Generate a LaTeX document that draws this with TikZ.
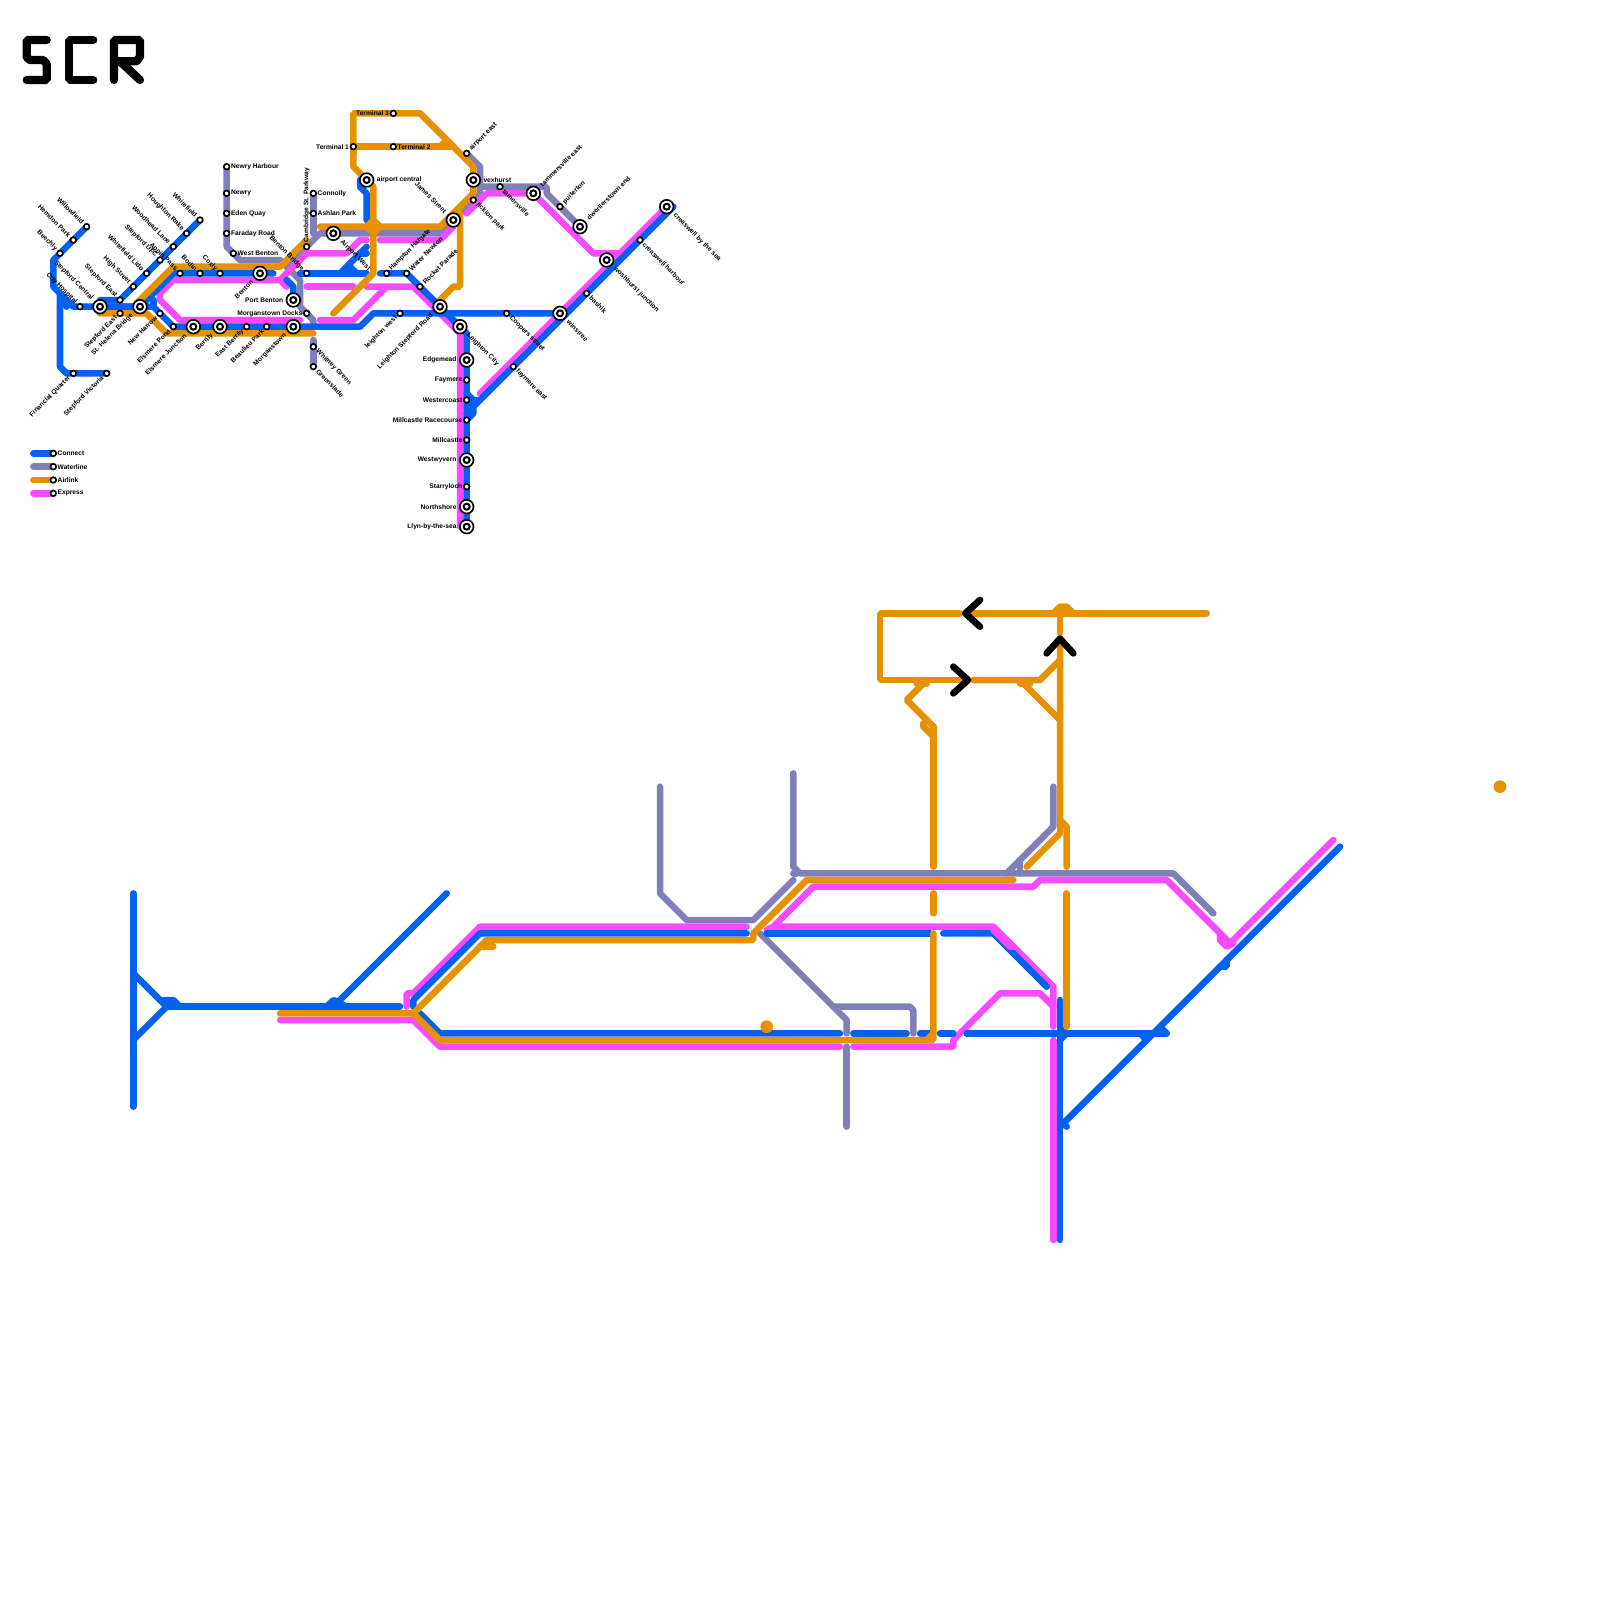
\documentclass[tikz,border=0pt]{standalone}
\usepackage{fontspec}
\setmainfont{Liberation Sans}
\newlength{\lgap}
\newcounter{stc}
\tikzset{
  base/.style={line width=1.85pt,line cap=round,line join=bevel},
  conn/.style={base,draw=cblue},
  water/.style={base,draw=cgrey},
  air/.style={base,draw=cairl},
  expr/.style={base,draw=cexp},
  chev/.style={line width=1.9pt,line cap=round,line join=round,draw=black},
  logo/.style={line width=2.35pt,line cap=round,line join=bevel,draw=black},
  ministn/.style={circle,draw=black,fill=white,line width=.475pt,minimum size=1.61pt,inner sep=0pt,outer sep=0pt},
  outerstn/.style={circle,draw=black,fill=white,line width=.475pt,minimum size=3.89pt,inner sep=0pt,outer sep=0pt},
  innerstn/.style={circle,draw=black,fill=white,line width=.57pt,minimum size=1.71pt,inner sep=0pt,outer sep=0pt},
  lab/.style={font=\fontsize{1.89}{2.2}\selectfont\bfseries,inner sep=0pt,outer sep=0pt,text=black},
  E/.style={shift={(0:\lgap)},anchor=west},
  W/.style={shift={(180:\lgap)},anchor=east},
  UU/.style={shift={(90:\lgap)},anchor=west,rotate=90},
  UR/.style={shift={(45:\lgap+0.3pt)},anchor=west,rotate=45},
  UL/.style={shift={(135:\lgap+0.3pt)},anchor=east,rotate=-45},
  DL/.style={shift={(225:\lgap+0.3pt)},anchor=east,rotate=45},
  DR/.style={shift={(-45:\lgap+0.3pt)},anchor=west,rotate=-45},
}
\definecolor{cblue}{HTML}{0460EE}
\definecolor{cgrey}{HTML}{8080B8}
\definecolor{cairl}{HTML}{E69200}
\definecolor{cexp}{HTML}{F64BFF}
\newcommand{\mstn}[4]{\stepcounter{stc}\setlength{\lgap}{1.25pt}%
  \node[ministn] (m\thestc) at (#1,#2) {};
  \node[lab,#3] (t\thestc) at (m\thestc.center) {#4};}
\newcommand{\istn}[4]{\stepcounter{stc}\setlength{\lgap}{2.9pt}%
  \node[outerstn] (m\thestc) at (#1,#2) {};
  \node[innerstn] (c\thestc) at (#1,#2) {};
  \node[lab,#3] (t\thestc) at (m\thestc.center) {#4};}
\begin{document}
\begin{tikzpicture}[x=0.0666667cm,y=-0.0666667cm]
\useasboundingbox (0,0) rectangle (240,240);
% logo
\draw[logo] (7,6)--(4,6)--(4,8.6)--(4.5,9)--(6.5,9)--(7,9.6)--(7,12)--(4,12);
\draw[logo] (14,6)--(10.3,6)--(10.3,12)--(14,12);
\draw[logo] (17.1,12)--(17.1,6)--(21,6)--(21,8.5)--(20.5,9.2)--(17.1,9.2);
\draw[logo] (18,9.2)--(21,12);
% ---------- Waterline
\draw[water] (34,25)--(34,37)--(36,39)--(42,39)--(45,42)--(45,46)--(47,48)--(47,49);
\draw[water] (47,51)--(47,55);
\draw[water] (47,29)--(47,35);
\draw[water] (43,40)--(48,35)--(66,35)--(72,29)--(72,25)--(70,23);
\draw[water] (72,28)--(82,28)--(82,29)--(87,34);
\draw[water] (99,118)--(99,134)--(103,138)--(113,138)--(119,132);
\draw[water] (119,116)--(119,130)--(120,131)--(176,131)--(182,137);
\draw[water] (119,131)--(119.5,131);
\draw[water] (114,140)--(127,153)--(127,155);
\draw[water] (125,151)--(136.5,151)--(137,151.5)--(137,155);
\draw[water] (127,157)--(127,169);
\draw[water] (158,118)--(158,124)--(151,131);
\draw[water] (153,129)--(153,131);
% ---------- Express
\draw[expr] (15,46)--(21,46);
\draw[expr] (43,43)--(42,42)--(26,42)--(24,44)--(24,45)--(27,48)--(45,48);
\draw[expr] (42,42)--(46,38)--(52,38)--(54,36)--(55,36);
\draw[expr] (57,36)--(66,36)--(68,34);
\draw[expr] (70,32)--(73,29)--(80,29)--(89,38)--(93,38)--(100,31);
\draw[expr] (72,59)--(93,38);
\draw[expr] (46,43)--(53,43);
\draw[expr] (55,43)--(62,43)--(69,50)--(69,79);
\draw[expr] (48,48)--(53,48)--(58,43);
\draw[expr] (61,151)--(61,149)--(62,149)--(72,139)--(112,139);
\draw[expr] (42,153)--(62,153)--(66,157)--(126,157);
\draw[expr] (128,157)--(143,157)--(143,156)--(150,149)--(156,149)--(158,151);
\draw[expr] (116,139)--(149,139)--(158,148)--(158,154);
\draw[expr] (158,156)--(158,186);
\draw[expr] (115,139.5)--(116,139)--(122,133)--(155,133)--(156,132)--(175,132)--(176,133)--(184.5,141.5)--(200,126);
\draw[expr] (183,140)--(183,141)--(184,142)--(185,141.5);
% ---------- Connect
\draw[conn] (13,34)--(8,39)--(8,43)--(11,46)--(23,46)--(26,49)--(54,49)--(56,47)--(84,47);
\draw[conn] (9,44)--(9,55)--(10,56)--(16,56);
\draw[conn] (10,45)--(10,46);
\draw[conn] (30,33)--(18,45)--(15,45);
\draw[conn] (21,46)--(26,41)--(41,41);
\draw[conn] (23,45)--(23,46);
\draw[conn] (45,41)--(55,41);
\draw[conn] (57,41)--(61,41)--(70,50)--(70,79);
\draw[conn] (51,41)--(55,37);
\draw[conn] (54,38)--(55,38);
\draw[conn] (52.5,40)--(53.5,41);
\draw[conn] (54,27)--(54,28)--(55,29)--(55,33);
\draw[conn] (43,42)--(44,43)--(44,45);
\draw[conn] (101,31)--(70,62);
\draw[conn] (70,59)--(71,60)--(72,60);
\draw[conn] (71,60)--(71,62)--(70,63);
% lower
\draw[conn] (20,134)--(20,166);
\draw[conn] (20,146)--(25,151);
\draw[conn] (20,156)--(25,151);
\draw[conn] (25,151)--(60,151);
\draw[conn] (24.5,150)--(26,150)--(27,151);
\draw[conn] (49,151)--(50,150)--(52,151);
\draw[conn] (50,151)--(67,134);
\draw[conn] (62,151)--(62,150)--(72,140)--(112,140);
\draw[conn] (63,152)--(66,155)--(126,155);
\draw[conn] (128,155)--(136,155);
\draw[conn] (138,155)--(139.5,155);
\draw[conn] (141,155)--(143,155);
\draw[conn] (145,155)--(175,155);
\draw[conn] (115,140)--(139.5,140);
\draw[conn] (141.5,140)--(149,140)--(157,148);
\draw[conn] (159,150)--(159,186);
\draw[conn] (159,169)--(201,127);
\draw[conn] (159,168)--(160,169);
\draw[conn] (171,155)--(172,156);
\draw[conn] (174,154)--(175,155);
\draw[conn] (184,144)--(184,145)--(183,145);
\draw[conn] (158,155)--(160,155);
\draw[conn] (159,154)--(160,155)--(159,156);
% magenta bump lying over the blue
\draw[expr] (149,139.5)--(151.5,142)--(152,142);
% ---------- Airlink
\draw[air] (15,47)--(22,47)--(25,50)--(47,50);
\draw[air] (21,45)--(26,40)--(42,40)--(46,36);
\draw[air] (20.5,45.5)--(21,45);
\draw[air] (53,23)--(53,17)--(63,17)--(71,25)--(71,29)--(66,34)--(48,34);
\draw[air] (53,22)--(68,22);
\draw[air] (66,22)--(67,21);
\draw[air] (53,22)--(53,25)--(55,27)--(56,28)--(56,41)--(50,47);
\draw[air] (55,34)--(56,33)--(57,34)--(56,35)--(55,34);
\draw[air] (69,32)--(69,43)--(68,43)--(66,45);
\draw[air] (42,152)--(62,152)--(72,142)--(73,141)--(113,141)--(113,140)--(121,132)--(152,132);
\draw[air] (72,142)--(74,142);
\draw[air] (62,152)--(66,156)--(140,156)--(140,140);
\draw[air] (139,156)--(140,155);
\draw[air] (140,134)--(140,137);
\draw[air] (140,109)--(140,130);
\draw[air] (138.5,108.5)--(138.5,109)--(140,110.5);
\draw[air] (139,102)--(136,105)--(140,109);
\draw[air] (137.5,102.5)--(139,102.5);
\draw[air] (144,92)--(132,92)--(132,102)--(144,102);
\draw[air] (146,102)--(156,102)--(159,99);
\draw[air] (146,92)--(181,92);
\draw[air] (158,92)--(159,91)--(160,91)--(161,92);
\draw[air] (159,92)--(159,95);
\draw[air] (159,97)--(159,125)--(154,130);
\draw[air] (153,102)--(159,108);
\draw[air] (153,102.5)--(154.5,102.5);
\draw[air] (159,123)--(160,124)--(160,130);
\draw[air] (160,134)--(160,154);
\fill[cairl] (115,154) circle (0.95);
\fill[cairl] (225,118) circle (0.95);
% chevrons
\draw[chev] (147,90)--(144.8,92)--(147,94);
\draw[chev] (143,100)--(145.2,102)--(143,104);
\draw[chev] (157,98)--(159,95.8)--(161,98);
% ---------- Legend
\draw[conn] (5,68)--(8,68);
\draw[water] (5,70)--(8,70);
\draw[air] (5,72)--(8,72);
\draw[expr] (5,74)--(8,74);
\mstn{8}{68}{E}{Connect}
\mstn{8}{70}{E}{Waterline}
\mstn{8}{72}{E}{Airlink}
\mstn{8}{74}{E}{Express}
% ---------- Stations
\mstn{13}{34}{UL}{Willowfield}
\mstn{11}{36}{UL}{Hemdon Park}
\mstn{9}{38}{UL}{Beechly}
\mstn{12}{46}{UL}{City Hospital}
\istn{15}{46}{UL}{Stepford Central}
\mstn{18}{45}{UL}{Stepford East}
\mstn{18}{47}{DL}{Stepford East}
\istn{21}{46}{DL}{St. Helena Bridge}
\mstn{24}{47}{DL}{New Harrow}
\mstn{26}{49}{DL}{Elsmere Pond}
\istn{29}{49}{DL}{Elsmere Junction}
\istn{33}{49}{DL}{Berrily}
\mstn{37}{49}{DL}{East Berrily}
\mstn{40}{49}{DL}{Beaulieu Park}
\istn{44}{49}{DL}{Morganstown}
\istn{44}{45}{W}{Port Benton}
\mstn{46}{47}{W}{Morganstown Docks}
\mstn{46}{41}{UL}{Benton Bridge}
\mstn{46}{37}{UU}{Cambridge St. Parkway}
\mstn{47}{29}{E}{Connolly}
\mstn{47}{32}{E}{Ashlan Park}
\mstn{34}{25}{E}{Newry Harbour}
\mstn{34}{29}{E}{Newry}
\mstn{34}{32}{E}{Eden Quay}
\mstn{34}{35}{E}{Faraday Road}
\mstn{35}{38}{E}{West Benton}
\istn{39}{41}{DL}{Benton}
\mstn{27}{41}{UL}{Appin Pass}
\mstn{30}{41}{UL}{Bodin}
\mstn{33}{41}{UL}{Coxly}
\mstn{30}{33}{UL}{Whitefield}
\mstn{28}{35}{UL}{Houghton Rake}
\mstn{26}{37}{UL}{Woodhead Lane}
\mstn{24}{39}{UL}{Stepford UFC}
\mstn{22}{41}{UL}{Whitefield Lido}
\mstn{20}{43}{UL}{High Street}
\mstn{11}{56}{DL}{Financial Quarter}
\mstn{16}{56}{DL}{Stepford Victoria}
\mstn{47}{52}{DR}{Whitney Green}
\mstn{47}{55}{DR}{Greenslade}
\istn{50}{35}{DR}{Airport West}
\mstn{53}{22}{W}{Terminal 1}
\mstn{59}{17}{W}{Terminal 3}
\mstn{59}{22}{E}{Terminal 2}
\istn{55}{27}{E}{airport central}
\mstn{70}{23}{UR}{airport east}
\istn{71}{27}{E}{vexhurst}
\mstn{71}{30}{DR}{fickion park}
\mstn{75}{28}{DR}{tamersville}
\istn{80}{29}{UR}{tammersville east}
\mstn{84}{31}{UR}{puiterton}
\istn{87}{34}{UR}{dwerllerstown end}
\istn{100}{31}{DR}{creaswell by the sea}
\mstn{96}{36}{DR}{creaswell harbour}
\istn{91}{39}{DR}{woshhurst junction}
\mstn{88}{44}{DR}{bashik}
\istn{84}{47}{DR}{winstree}
\mstn{76}{47}{DR}{Coopers street}
\mstn{77}{55}{DR}{faymere east}
\mstn{60}{47}{DL}{leighton west}
\istn{66}{46}{DL}{Leighton Stepford Road}
\istn{69}{49}{DR}{Leighton City}
\istn{68}{33}{UL}{James Street}
\mstn{58}{41}{UR}{Hampton Hargate}
\mstn{61}{41}{UR}{Water Newton}
\mstn{63}{43}{UR}{Rocket Parade}
\istn{70}{54}{W}{Edgemead}
\mstn{70}{57}{W}{Faymere}
\mstn{70}{60}{W}{Westercoast}
\mstn{70}{63}{W}{Millcastle Racecourse}
\mstn{70}{66}{W}{Millcastle}
\istn{70}{69}{W}{Westwyvern}
\mstn{70}{73}{W}{Starryloch}
\istn{70}{76}{W}{Northshore}
\istn{70}{79}{W}{Llyn-by-the-sea}
\end{tikzpicture}
\end{document}
